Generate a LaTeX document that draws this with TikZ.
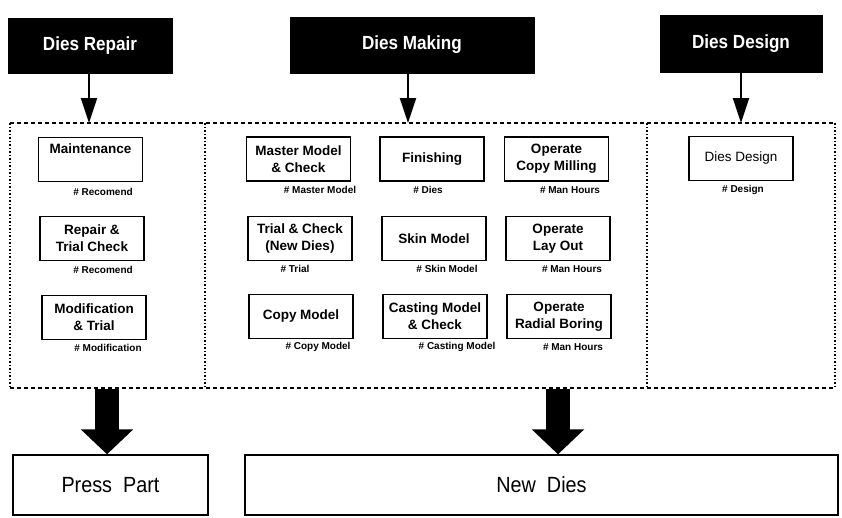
\documentclass[tikz,border=0pt]{standalone}
\usepackage{fontspec}
\setmainfont{Liberation Sans}
\usetikzlibrary{arrows.meta}
\begin{document}
\begin{tikzpicture}[x=1pt,y=-1pt,
  title/.style={fill=black, draw=black, text=white, inner sep=0pt,
    font=\bfseries\fontsize{19}{19}\selectfont},
  task/.style={draw=black, line width=1.6pt, minimum width=104pt, minimum height=44pt,
    align=center, inner sep=1pt, font=\bfseries\fontsize{13.5}{17}\selectfont},
  tag/.style={font=\bfseries\fontsize{10}{10}\selectfont, inner sep=0pt},
  feed/.style={-{Triangle[length=25pt,width=16pt]}, line width=2pt},
  hz/.style={line width=1.4pt, dash pattern=on 4pt off 3pt},
  vt/.style={line width=1.4pt, dash pattern=on 1.5pt off 2pt},
  result/.style={draw=black, line width=1.3pt, inner sep=0pt,
    font=\fontsize{22}{22}\selectfont},
  bigarrow/.style={line width=24pt, -{Triangle[length=25pt,width=51pt]}}
]
\useasboundingbox (0,0) rectangle (842,517);

% department headers
\node[title, minimum width=164pt, minimum height=55pt] (repair) at (90,45.5) {\scalebox{0.9}[1]{Dies Repair}};
\node[title, minimum width=244pt, minimum height=56pt] (making) at (412,45) {\scalebox{0.9}[1]{Dies Making}};
\node[title, minimum width=162pt, minimum height=57pt] (design) at (741,43.5) {\scalebox{0.9}[1]{Dies Design}};

% frame corners and column dividers
\coordinate (tl) at (10,123);
\coordinate (tr) at (835,123);
\coordinate (bl) at (10,388);
\coordinate (br) at (835,388);
\coordinate (d1t) at (205,123);
\coordinate (d1b) at (205,388);
\coordinate (d2t) at (647,123);
\coordinate (d2b) at (647,388);

\draw[hz] (tl) -- (tr);
\draw[hz] (bl) -- (br);
\draw[vt] (tl) -- (bl);
\draw[vt] (d1t) -- (d1b);
\draw[vt] (d2t) -- (d2b);
\draw[vt] (tr) -- (br);

% entry points on the frame
\coordinate (inrep) at (89,123);
\coordinate (inmak) at (408,123);
\coordinate (indes) at (741,123);
\draw[feed] (repair.south -| inrep) -- (inrep);
\draw[feed] (making.south -| inmak) -- (inmak);
\draw[feed] (design.south -| indes) -- (indes);

% repair column
\node[task] (maint) at (90.5,159.5) {Maintenance\\\strut};
\node[task] (rtc) at (92,238.5) {Repair \&\\Trial Check};
\node[task] (mod) at (94,317.5) {Modification\\\& Trial};
\node[tag] (tmaint) at (103,192) {\# Recomend};
\node[tag] (trtc) at (103,270) {\# Recomend};
\node[tag] (tmod) at (108,348) {\# Modification};

% making column
\node[task] (master) at (298.5,159) {Master Model\\\& Check};
\node[task] (finish) at (432,159) {Finishing};
\node[task] (mill) at (556.5,159) {Operate\\Copy Milling};
\node[task] (trial) at (300,238.5) {Trial \& Check\\(New Dies)};
\node[task] (skin) at (434,238.5) {Skin Model};
\node[task] (layout) at (558,238.5) {Operate\\Lay Out};
\node[task] (copy) at (301,316.5) {Copy Model};
\node[task] (cast) at (435,316.5) {Casting Model\\\& Check};
\node[task] (bore) at (559,316.5) {Operate\\Radial Boring};

\node[tag] (tmaster) at (320,190) {\# Master Model};
\node[tag] (tfinish) at (428,190) {\# Dies};
\node[tag] (tmill) at (570,190) {\# Man Hours};
\node[tag] (ttrial) at (295,269) {\# Trial};
\node[tag] (tskin) at (447,269) {\# Skin Model};
\node[tag] (tlayout) at (572,269) {\# Man Hours};
\node[tag] (tcopy) at (318,347) {\# Copy Model};
\node[tag] (tcast) at (457,347) {\# Casting Model};
\node[tag] (tbore) at (573,347) {\# Man Hours};

% design column
\node[task] (ddesign) at (741,158.5) {\mdseries Dies Design};
\node[tag] (tdesign) at (743,190) {\# Design};

% outputs
\node[result, minimum width=195pt, minimum height=60pt] (press) at (110.5,485) {\scalebox{0.9}[1]{Press\ \ Part}};
\node[result, minimum width=593pt, minimum height=60pt] (newdies) at (541.5,485) {\scalebox{0.9}[1]{New\ \ Dies}};

\coordinate (outrep) at (107,389);
\coordinate (outmak) at (558,389);
\draw[bigarrow] (outrep) -- (press.north -| outrep);
\draw[bigarrow] (outmak) -- (newdies.north -| outmak);
\end{tikzpicture}
\end{document}
